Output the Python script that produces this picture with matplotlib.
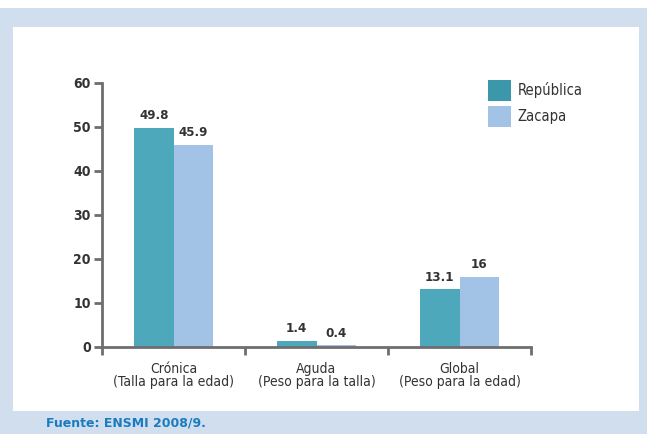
import matplotlib.pyplot as plt
import numpy as np
from matplotlib.patches import Rectangle, Patch

categorias = ["Crónica\n(Talla para la edad)", "Aguda\n(Peso para la talla)", "Global\n(Peso para la edad)"]
republica = [49.8, 1.4, 13.1]
zacapa = [45.9, 0.4, 16]
etiquetas_rep = ["49.8", "1.4", "13.1"]
etiquetas_zac = ["45.9", "0.4", "16"]
y_ticks = [0, 10, 20, 30, 40, 50, 60]

plt.rcParams['font.family'] = ['DejaVu Sans']
plt.rcParams['font.stretch'] = 'condensed'

col_rep = '#4da8bc'
col_zac = '#a2c2e6'
gris = '#6e6e70'
texto = '#333333'

fig = plt.figure(figsize=(6.47, 4.34), dpi=100)
W, H = 647, 434
# fondo azul y panel blanco
fig.patches.append(Rectangle((0, 0), 1, 1 - 8 / H, transform=fig.transFigure,
                             facecolor='#d0deee', edgecolor='none', zorder=-2))
fig.patches.append(Rectangle((13 / W, 1 - 411 / H), (639 - 13) / W, (411 - 27) / H,
                             transform=fig.transFigure, facecolor='white',
                             edgecolor='none', zorder=-1))

ax = fig.add_axes([102 / W, 1 - 347 / H, (531 - 102) / W, (347 - 83) / H])
ax.set_zorder(2)
ax.patch.set_alpha(0)

x = np.arange(len(categorias))
w = 0.276
b1 = ax.bar(x - w / 2, republica, w, color=col_rep, zorder=2)
b2 = ax.bar(x + w / 2, zacapa, w, color=col_zac, zorder=2)

for rect, lab in zip(b1, etiquetas_rep):
    ax.annotate(lab, (rect.get_x() + rect.get_width() / 2, rect.get_height()),
                xytext=(0, 4), textcoords='offset points', ha='center', va='bottom',
                fontsize=9.5, fontweight='bold', color=texto)
for rect, lab in zip(b2, etiquetas_zac):
    ax.annotate(lab, (rect.get_x() + rect.get_width() / 2, rect.get_height()),
                xytext=(0, 4), textcoords='offset points', ha='center', va='bottom',
                fontsize=9.5, fontweight='bold', color=texto)

ax.set_xlim(-0.5, 2.5)
ax.set_ylim(0, 60)
ax.set_yticks(y_ticks)
ax.tick_params(axis='y', direction='out', length=6, width=2, color=gris,
               labelsize=10, labelcolor=texto, pad=2)
for t in ax.get_yticklabels():
    t.set_fontweight('bold')

ax.set_xticks([-0.5, 0.5, 1.5, 2.5])
ax.set_xticklabels([])
ax.tick_params(axis='x', which='major', direction='out', length=6, width=2, color=gris)
ax.set_xticks(x, minor=True)
ax.set_xticklabels(categorias, minor=True, fontsize=10, color=texto, linespacing=0.9)
ax.tick_params(axis='x', which='minor', length=0, pad=11)

for s in ['top', 'right']:
    ax.spines[s].set_visible(False)
for s in ['left', 'bottom']:
    ax.spines[s].set_color(gris)
    ax.spines[s].set_linewidth(2)

handles = [Patch(facecolor='#3b98aa', edgecolor='none', label='República'),
           Patch(facecolor=col_zac, edgecolor='none', label='Zacapa')]
ax.legend(handles=handles, loc='upper left', bbox_to_anchor=(0.9, 1.012),
          frameon=False, fontsize=10.5, handlelength=1.55, handleheight=1.9,
          handletextpad=0.45, labelspacing=0.3, labelcolor=texto,
          borderpad=0, borderaxespad=0)

fig.text(46 / W, 1 - 423 / H, "Fuente: ENSMI 2008/9.", family='DejaVu Sans',
         stretch='normal', fontsize=9, fontweight='bold', color='#1a7cc0',
         va='center', ha='left')

fig.savefig('out.png', dpi=100)
